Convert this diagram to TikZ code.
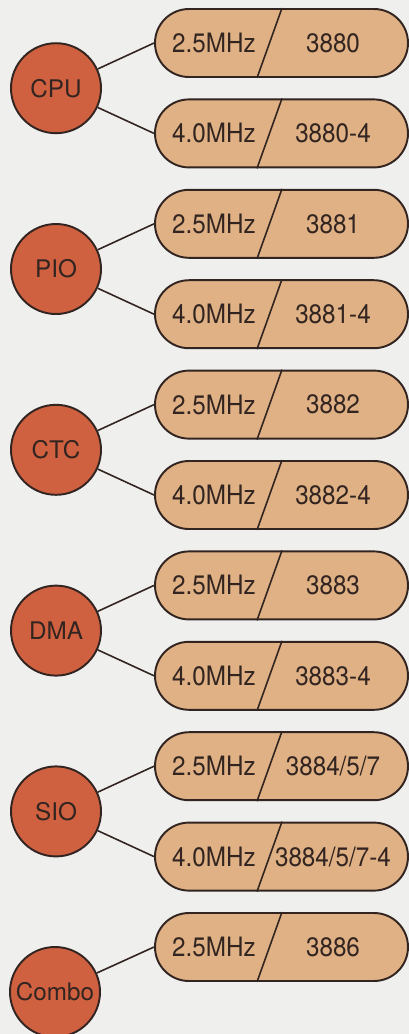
\documentclass[tikz,border=0pt]{standalone}
\usepackage{fontspec}
\setmainfont{TeX Gyre Heros}
\definecolor{chipred}{RGB}{207,97,64}
\definecolor{pilltan}{RGB}{223,177,132}
\definecolor{inkline}{RGB}{50,36,32}
\definecolor{paper}{RGB}{239,239,237}
\tikzset{
  chip/.style={circle,draw=inkline,fill=chipred,line width=1.1pt,minimum size=18mm,inner sep=0pt,text=inkline},
  pill/.style={draw=inkline,fill=pilltan,line width=1.1pt,rounded corners=6.8mm,minimum width=50.6mm,minimum height=13.6mm,inner sep=0pt},
  wire/.style={draw=inkline,line width=0.9pt},
  lbl/.style={text=inkline,inner sep=0pt,yscale=1.1}
}
\begin{document}
\begin{tikzpicture}[x=0.2mm,y=-0.2mm,font=\fontsize{13.8}{16}\selectfont]
    \fill[paper] (0,0) rectangle (409,1034);
    \useasboundingbox (0,0) rectangle (409,1034);
    \foreach \chipname/\partno [count=\i from 0] in {CPU/3880,PIO/3881,CTC/3882,DMA/3883,SIO/{3884/5/7}} {
        \pgfmathsetmacro\ytop{43+180.8*\i}
        \node[pill] (slow\i) at (281.5,\ytop) {};
        \node[pill] (fast\i) at (281.5,\ytop+90.4) {};
        \draw[wire] ([xshift=0.1mm]slow\i.north) -- ([xshift=-4.9mm]slow\i.south);
        \draw[wire] ([xshift=0.1mm]fast\i.north) -- ([xshift=-4.9mm]fast\i.south);
        \node[lbl] at ([xshift=-13.5mm]slow\i.center) {2.5MHz};
        \node[lbl] at ([xshift=10.3mm]slow\i.center) {\partno};
        \node[lbl] at ([xshift=-13.5mm]fast\i.center) {4.0MHz};
        \node[lbl] at ([xshift=10.3mm]fast\i.center) {\partno-4};
        \node[chip] (chip\i) at (56,\ytop+45.2) {\chipname};
        \draw[wire] (chip\i) -- (slow\i.west);
        \draw[wire] (chip\i) -- (fast\i.west);
    }
    \node[pill] (slowcombo) at (281.5,947) {};
    \draw[wire] ([xshift=0.1mm]slowcombo.north) -- ([xshift=-4.9mm]slowcombo.south);
    \node[lbl] at ([xshift=-13.5mm]slowcombo.center) {2.5MHz};
    \node[lbl] at ([xshift=10.3mm]slowcombo.center) {3886};
    \node[chip,yscale=1] (combo) at (55,992) {Combo};
    \draw[wire] (combo) -- (slowcombo.west);
\end{tikzpicture}
\end{document}
